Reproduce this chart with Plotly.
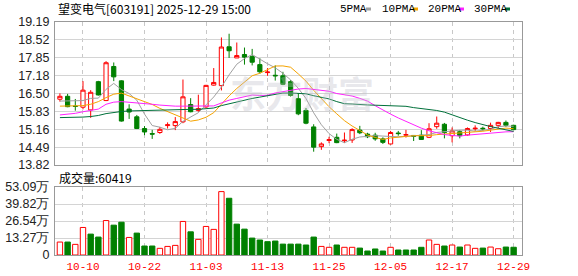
import plotly.graph_objects as go
import pandas as pd

dates = ["2025-09-29", "2025-09-30", "2025-10-09", "2025-10-10", "2025-10-13", "2025-10-14", "2025-10-15",
         "2025-10-16", "2025-10-17", "2025-10-20", "2025-10-21", "2025-10-22", "2025-10-23", "2025-10-24",
         "2025-10-27", "2025-10-28", "2025-10-29", "2025-10-30", "2025-10-31", "2025-11-03", "2025-11-04",
         "2025-11-05", "2025-11-06", "2025-11-07", "2025-11-10", "2025-11-11", "2025-11-12", "2025-11-13",
         "2025-11-14", "2025-11-17", "2025-11-18", "2025-11-19", "2025-11-20", "2025-11-21", "2025-11-24",
         "2025-11-25", "2025-11-26", "2025-11-27", "2025-11-28", "2025-12-01", "2025-12-02", "2025-12-03",
         "2025-12-04", "2025-12-05", "2025-12-08", "2025-12-09", "2025-12-10", "2025-12-11", "2025-12-12",
         "2025-12-15", "2025-12-16", "2025-12-17", "2025-12-18", "2025-12-19", "2025-12-22", "2025-12-23",
         "2025-12-24", "2025-12-25", "2025-12-26", "2025-12-29"]

opens = [16.29, 16.40, 16.03, 15.99, 15.89, 16.95, 16.24, 17.52, 16.98, 15.92, 15.63, 15.19, 15.00, 15.04,
         15.30, 15.30, 15.44, 16.09, 15.87, 16.00, 16.82, 16.80, 18.26, 17.84, 17.97, 17.89, 17.59, 17.29,
         17.19, 17.17, 16.95, 16.31, 15.87, 15.25, 14.51, 14.74, 14.86, 14.73, 14.76, 15.13, 14.98, 14.94,
         14.80, 14.61, 15.02, 14.94, 14.93, 14.94, 14.86, 15.26, 15.35, 14.92, 15.07, 14.95, 15.18, 15.20,
         15.19, 15.31, 15.42, 15.31]
closes = [16.40, 16.01, 16.02, 16.63, 16.55, 16.45, 17.66, 17.13, 15.47, 15.81, 15.19, 15.06, 14.98, 15.16,
          15.33, 15.45, 16.38, 15.82, 15.94, 16.81, 16.92, 18.25, 18.11, 17.93, 17.87, 17.68, 17.32, 17.31,
          17.17, 16.85, 16.43, 15.74, 15.39, 14.49, 14.61, 14.77, 14.66, 14.75, 15.15, 15.03, 14.88, 14.80,
          14.67, 15.04, 15.00, 14.96, 14.90, 14.78, 15.18, 15.39, 15.04, 15.10, 14.92, 15.19, 15.20, 15.18,
          15.31, 15.42, 15.31, 15.15]
highs = [16.51, 16.49, 16.30, 16.97, 16.63, 16.98, 17.72, 17.67, 17.00, 16.10, 15.70, 15.28, 15.14, 15.25,
         15.42, 15.62, 17.03, 16.33, 16.46, 16.83, 17.46, 18.61, 18.75, 18.42, 18.23, 18.18, 17.83, 17.46,
         17.56, 17.32, 17.01, 16.52, 15.96, 15.35, 14.67, 14.88, 15.00, 15.04, 15.20, 15.29, 15.03, 15.03,
         14.86, 15.10, 15.10, 15.14, 14.94, 15.13, 15.39, 15.64, 15.40, 15.23, 15.13, 15.23, 15.31, 15.26,
         15.41, 15.44, 15.49, 15.33]
lows = [16.20, 15.99, 15.86, 15.91, 15.59, 16.43, 16.22, 16.97, 15.45, 15.55, 15.17, 14.94, 14.80, 14.99,
        15.19, 15.13, 15.39, 15.80, 15.82, 15.97, 16.80, 16.62, 17.84, 17.84, 17.59, 17.56, 17.25, 17.17,
        16.99, 16.82, 16.39, 15.69, 15.35, 14.32, 14.39, 14.64, 14.64, 14.65, 14.65, 14.98, 14.83, 14.73,
        14.61, 14.59, 14.92, 14.85, 14.72, 14.77, 14.83, 15.18, 14.82, 14.67, 14.82, 14.92, 15.10, 15.10,
        15.06, 15.20, 15.25, 15.12]
volumes_wan = [10.1, 10.1, 8.3, 21.5, 16.3, 14.0, 26.9, 23.3, 25.6, 13.7, 17.1, 7.0, 7.0, 5.2, 6.7,
               7.5, 26.2, 18.1, 12.2, 22.3, 20.0, 49.5, 44.3, 24.1, 20.2, 13.2, 11.7, 10.4, 10.9, 8.5,
               8.5, 8.5, 7.8, 14.0, 6.7, 6.0, 7.8, 6.0, 6.0, 5.4, 3.1, 4.7, 3.1, 6.0, 3.9,
               3.9, 3.9, 6.0, 11.7, 8.3, 7.0, 7.8, 6.2, 7.8, 5.2, 5.4, 6.2, 4.9, 6.2, 6.04]
prev_close_first = 16.20

# moving-average values before the full window is available
ma5_head = [16.22, 16.22, 16.22, 16.24]
ma10_head = [16.03, 16.03, 16.03, 16.05, 16.10, 16.20, 16.35, 16.48, 16.52]
ma20_head = [15.70, 15.72, 15.76, 15.82, 15.86, 15.92, 16.10, 16.18, 16.20, 16.18, 16.16, 16.14, 16.10,
             16.07, 16.04, 16.03, 16.03, 16.03, 16.03]
ma30_head = [15.60, 15.60, 15.61, 15.62, 15.64, 15.68, 15.75, 15.80, 15.83, 15.85, 15.86, 15.87, 15.88,
             15.89, 15.90, 15.90, 15.90, 15.91, 15.91, 15.93, 15.96, 16.05, 16.12, 16.20, 16.27, 16.32,
             16.37, 16.42, 16.46]

price_ticks = [13.82, 14.49, 15.16, 15.83, 16.50, 17.18, 17.85, 18.52, 19.19]
price_tick_text = ["13.82", "14.49", "15.16", "15.83", "16.50", "17.18", "17.85", "18.52", "19.19"]
vol_ticks = [0, 13.27, 26.54, 39.82, 53.09]
vol_tick_text = ["0", "13.27万", "26.54万", "39.82万", "53.09万"]
date_tick_idx = [3, 11, 19, 27, 35, 43, 51, 59]
date_tick_text = ["10-10", "10-22", "11-03", "11-13", "11-25", "12-05", "12-17", "12-29"]

title_text = "望变电气[603191] 2025-12-29 15:00"
vol_title = "成交量:60419"
ma_names = ["5PMA", "10PMA", "20PMA", "30PMA"]
ma_colors = ["#a0a0a0", "#f5a300", "#ff22ff", "#00703a"]

RED = "#ff0000"
GREEN = "#008000"

cs = pd.Series(closes)
def ma(n, head):
    s = cs.rolling(n).mean().tolist()
    return head + s[len(head):]

mas = [ma(5, ma5_head), ma(10, ma10_head), ma(20, ma20_head), ma(30, ma30_head)]

prev = [prev_close_first] + closes[:-1]
vol_up = [c >= p for c, p in zip(closes, prev)]
vol_fill = ["white" if u else GREEN for u in vol_up]
vol_line = [RED if u else GREEN for u in vol_up]

fig = go.Figure()

fig.add_trace(go.Candlestick(
    x=dates, open=opens, high=highs, low=lows, close=closes,
    increasing=dict(line=dict(color=RED, width=1), fillcolor="white"),
    decreasing=dict(line=dict(color=GREEN, width=1), fillcolor=GREEN),
    whiskerwidth=0, xaxis="x", yaxis="y", showlegend=False, hoverinfo="skip"))

for name, col, vals in zip(ma_names, ma_colors, mas):
    fig.add_trace(go.Scatter(x=dates, y=vals, mode="lines", line=dict(color=col, width=1),
                             name=name, xaxis="x", yaxis="y", showlegend=False, hoverinfo="skip"))

fig.add_trace(go.Bar(x=dates, y=volumes_wan, xaxis="x2", yaxis="y2",
                     marker=dict(color=vol_fill, line=dict(color=vol_line, width=1)),
                     showlegend=False, hoverinfo="skip"))

# layout geometry (pixels)
L, R, T, B = 55, 56, 22, 21
W, H = 578, 276
ph = H - T - B
pw = W - L - R
def py(y):
    return (H - B - y) / ph
def px(x):
    return (x - L) / pw

tick_dates = [dates[i] for i in date_tick_idx]
axis_font = dict(family="Liberation Sans, Arial", size=12.5, color="#222")
grid_h = "#d4d4d4"
frame = "#999999"

fig.update_layout(
    width=W, height=H, margin=dict(l=L, r=R, t=T, b=B, pad=0, autoexpand=False),
    paper_bgcolor="white", plot_bgcolor="white",
    bargap=0.3, boxgap=0.22,
    xaxis=dict(domain=[0, 1], anchor="y", type="category", range=[-0.64, 60.09],
               tickvals=tick_dates, showticklabels=False, ticks="", automargin=False,
               showgrid=True, gridcolor="#c8c8c8", griddash="4px,4px", gridwidth=1,
               showline=True, mirror=True, linecolor=frame, linewidth=1, zeroline=False,
               rangeslider=dict(visible=False), fixedrange=True),
    yaxis=dict(domain=[py(165), 1], anchor="x", range=[13.82, 19.19], automargin=False,
               tickvals=price_ticks, ticktext=price_tick_text, tickfont=axis_font,
               ticks="", ticklabelstandoff=2,
               showgrid=True, gridcolor=grid_h, gridwidth=1,
               showline=True, mirror=True, linecolor=frame, linewidth=1, zeroline=False),
    xaxis2=dict(domain=[0, 1], anchor="y2", type="category", matches="x", automargin=False,
                tickvals=tick_dates, ticktext=date_tick_text,
                ticks="", ticklabelstandoff=1,
                tickfont=dict(family="Liberation Mono, monospace", size=11, color=RED),
                showgrid=True, gridcolor="#c8c8c8", griddash="4px,4px", gridwidth=1,
                showline=True, mirror=True, linecolor=frame, linewidth=1, zeroline=False,
                rangeslider=dict(visible=False)),
    yaxis2=dict(domain=[0, py(187)], anchor="x2", range=[0, 53.09], automargin=False,
                tickvals=vol_ticks, ticktext=vol_tick_text, tickfont=axis_font,
                ticks="", ticklabelstandoff=2,
                showgrid=True, gridcolor=grid_h, gridwidth=1,
                showline=True, mirror=True, linecolor=frame, linewidth=1, zeroline=False),
)

cjk = "Noto Sans CJK SC"
ann = []
ann.append(dict(x=px(56), y=py(8.5), xref="paper", yref="paper", xanchor="left", yanchor="middle",
                text=title_text, showarrow=False, font=dict(family=cjk, size=12, color="#000")))
ann.append(dict(x=px(57), y=py(177), xref="paper", yref="paper", xanchor="left", yanchor="middle",
                text=vol_title, showarrow=False, font=dict(family=cjk, size=12, color="#000")))
legend_x = [338, 380, 426, 472]
square_x = [366, 413, 459, 505]
shapes = []
for name, col, lx, sx in zip(ma_names, ma_colors, legend_x, square_x):
    ann.append(dict(x=px(lx), y=py(8.7), xref="paper", yref="paper", xanchor="left", yanchor="middle",
                    text=name, showarrow=False,
                    font=dict(family="Liberation Mono, monospace", size=11, color="#000")))
    shapes.append(dict(type="rect", xref="paper", yref="paper", x0=px(sx), x1=px(sx + 5),
                       y0=py(10.5), y1=py(7.5), fillcolor=col, line=dict(width=0)))
# watermark
ann.append(dict(x=px(302), y=py(92), xref="paper", yref="paper", xanchor="center", yanchor="middle",
                text="<b>东方财富</b>", showarrow=False,
                font=dict(family=cjk, size=36, color="rgba(190,190,200,0.35)")))
fig.update_layout(annotations=ann, shapes=shapes)

fig.write_html("out.html")
